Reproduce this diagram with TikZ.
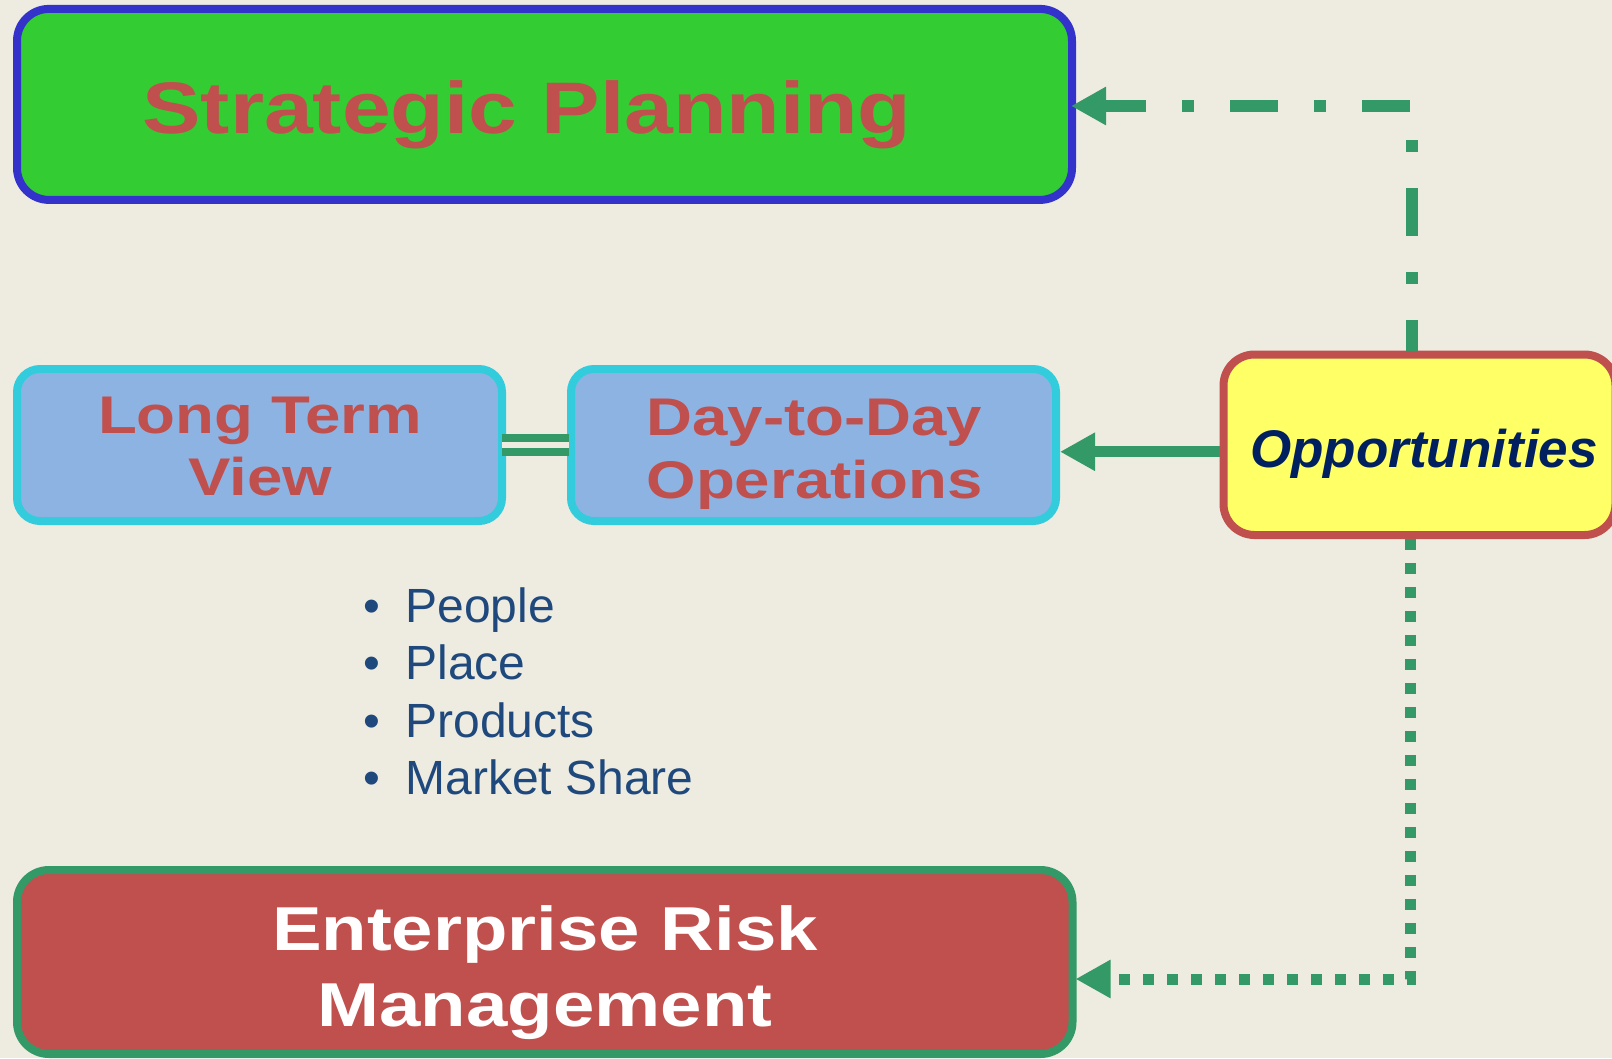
\documentclass[tikz,border=0pt]{standalone}
\usepackage{fontspec}
\setmainfont{Liberation Sans}
\newfontfamily\widesans{Liberation Sans}[FakeStretch=1.2]
\usetikzlibrary{arrows.meta}

\definecolor{paper}{HTML}{EEECE1}
\definecolor{planfill}{HTML}{33CC33}
\definecolor{planedge}{HTML}{3333CC}
\definecolor{brick}{HTML}{C0504D}
\definecolor{skyfill}{HTML}{8DB3E2}
\definecolor{skyedge}{HTML}{33CCDD}
\definecolor{lemon}{HTML}{FFFF66}
\definecolor{navy}{HTML}{002060}
\definecolor{flow}{HTML}{339966}
\definecolor{listblue}{HTML}{1F497D}

\tikzset{
  panel/.style={draw, line width=8pt, inner sep=0pt},
  viewpanel/.style={panel, draw=skyedge, fill=skyfill, rounded corners=23pt,
                    minimum width=485pt, minimum height=152pt},
  caption/.style={inner sep=0pt, anchor=base},
  arrowtip/.style={-{Triangle[length=35pt,width=36pt]}},
  link/.style={draw=flow, line width=12pt, arrowtip},
}

\begin{document}
\begin{tikzpicture}[x=1pt,y=-1pt]
  \useasboundingbox (0,0) rectangle (1612,1058);
  \fill[paper] (0,0) rectangle (1612,1058);

  % boxes
  \node[panel, draw=planedge, fill=planfill, rounded corners=32pt,
        minimum width=1055pt, minimum height=191pt] (sp) at (544.5,104.4) {};
  \node[viewpanel] (ltv) at (259.5,445) {};
  \node[viewpanel] (dtd) at (813.5,445) {};
  \node[panel, draw=brick, fill=lemon, rounded corners=31pt,
        minimum width=392pt, minimum height=180.5pt] (opp) at (1419.5,444.75) {};
  \node[panel, draw=flow, fill=brick, rounded corners=32pt,
        minimum width=1055.5pt, minimum height=184pt] (erm) at (544.75,962) {};

  % box texts
  \node[caption, text=brick, font=\widesans\bfseries\fontsize{73}{80}\selectfont]
    (sp-text) at (527,133) {Strategic Planning};
  \node[caption, text=brick, font=\widesans\bfseries\fontsize{53}{62}\selectfont]
    (ltv-text) at (260,433.5) {\begin{tabular}[t]{@{}c@{}}Long Term\\View\end{tabular}};
  \node[caption, text=brick, font=\widesans\bfseries\fontsize{53}{63}\selectfont]
    (dtd-text) at (814.5,435) {\begin{tabular}[t]{@{}c@{}}Day-to-Day\\Operations\end{tabular}};
  \node[caption, anchor=base west, text=navy, font=\bfseries\itshape\fontsize{53}{60}\selectfont]
    (opp-text) at (1250,467) {Opportunities};
  \node[caption, text=white, font=\widesans\bfseries\fontsize{62}{76}\selectfont]
    (erm-text) at (545,950.7) {\begin{tabular}[t]{@{}c@{}}Enterprise Risk\\Management\end{tabular}};

  % bullet list
  \node[caption, anchor=base west, text=listblue, font=\fontsize{48}{57.5}\selectfont]
    (items) at (363.5,622.3)
    {\begin{tabular}[t]{@{}l@{\hspace{25pt}}l@{}}
      \textbullet & People\\
      \textbullet & Place\\
      \textbullet & Products\\
      \textbullet & Market Share
    \end{tabular}};

  % connectors
  \coordinate (bendA) at (1412,106);
  \coordinate (bendB) at (1410,979);

  \draw[draw=flow, line width=8pt, double=paper, double distance=6pt]
    ([xshift=-4pt]ltv.east) -- ([xshift=2pt]dtd.west);

  \draw[link, line width=11pt] ([yshift=-7pt]opp.west) -- ([yshift=-7pt]opp.west -| dtd.east);

  \draw[link, dash pattern=on 48pt off 36pt on 12pt off 36pt, dash phase=17pt]
    (opp.north -| bendA) -- (bendA) -- ([xshift=-5pt]sp.east |- bendA);

  \draw[link, line width=11pt, dash pattern=on 11pt off 13pt]
    (opp.south -| bendB) -- (bendB) -- ([xshift=-1pt]erm.east |- bendB);
\end{tikzpicture}
\end{document}
